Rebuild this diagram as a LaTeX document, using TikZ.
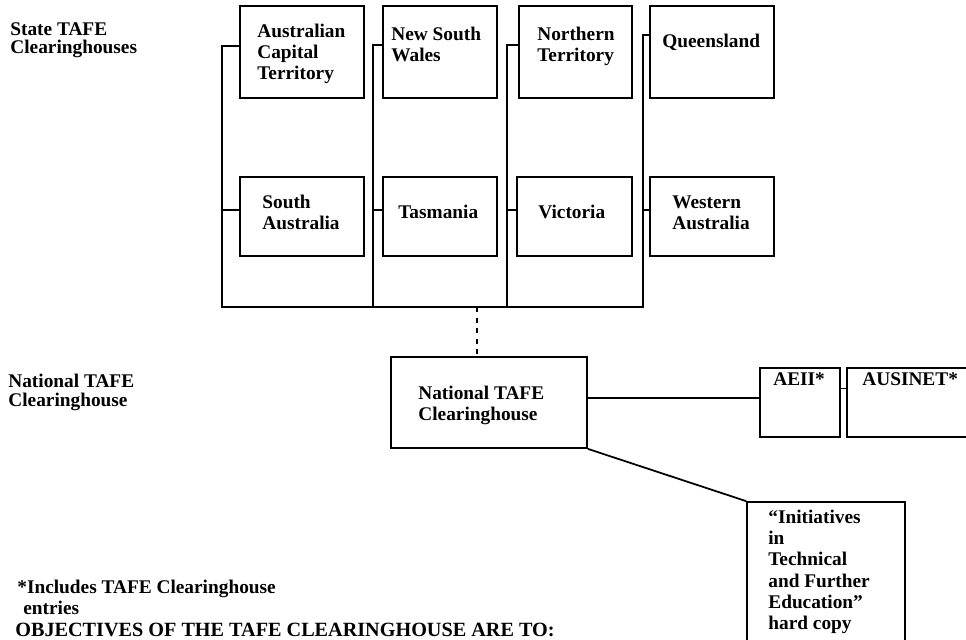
\documentclass[tikz,border=0pt]{standalone}
\usepackage{fontspec}
\setmainfont{Liberation Serif}
\usetikzlibrary{positioning, fit}

\begin{document}
\begin{tikzpicture}[x=0.02cm, y=-0.02cm,
    box/.style={draw, line width=1pt, inner sep=0pt},
    lbl/.style={anchor=north west, inner sep=0pt, align=left,
        font=\bfseries\fontsize{11}{12}\selectfont},
    link/.style={line width=1pt}]
    \clip (0,0) rectangle (966,639);

    % Row headings
    \node[lbl, font=\bfseries\fontsize{11}{10.5}\selectfont] (stateLbl) at (10,22) {State TAFE\\Clearinghouses};
    \node[lbl, font=\bfseries\fontsize{11}{10.5}\selectfont] (natLbl) at (8,374) {National TAFE\\Clearinghouse};

    % State boxes
    \node[box, fit={(240,6) (364,98)}] (act) {};
    \node[box, fit={(383,6) (497,98)}] (nsw) {};
    \node[box, fit={(519,6) (632,98)}] (nt) {};
    \node[box, fit={(650,6) (774,98)}] (qld) {};
    \node[box, fit={(240,177) (364,256)}] (sa) {};
    \node[box, fit={(383,177) (497,256)}] (tas) {};
    \node[box, fit={(517,177) (632,256)}] (vic) {};
    \node[box, fit={(650,177) (774,256)}] (wa) {};

    \node[lbl] (actTxt) at (257,24) {Australian\\Capital\\Territory};
    \node[lbl] (nswTxt) at (391,27) {New South\\Wales};
    \node[lbl] (ntTxt) at (537,27) {Northern\\Territory};
    \node[lbl] (qldTxt) at (662,34) {Queensland};
    \node[lbl] (saTxt) at (262,195) {South\\Australia};
    \node[lbl] (tasTxt) at (398,205) {Tasmania};
    \node[lbl] (vicTxt) at (538,205) {Victoria};
    \node[lbl] (waTxt) at (672,195) {Western\\Australia};

    % National level
    \node[box, fit={(391,357) (587,448)}] (nat) {};
    \node[lbl] (natTxt) at (418,386) {National TAFE\\Clearinghouse};
    \node[box, fit={(760,368) (840,437)}] (aeii) {};
    \node[lbl] (aeiiTxt) at (773,372) {AEII*};
    \node[box, fit={(847,368) (990,437)}] (aus) {};
    \node[lbl] (ausTxt) at (862,372) {AUSINET*};
    \node[box, fit={(747,502) (905,670)}] (init) {};
    \node[lbl] (initTxt) at (768,510) {``Initiatives\\in\\Technical\\and Further\\Education''\\hard copy};

    % Brackets joining the states
    \coordinate (col1) at (222,307);
    \coordinate (col2) at (373,307);
    \coordinate (col3) at (507,307);
    \coordinate (col4) at (643,307);
    \coordinate (tap) at (477,307);
    \draw[link] ([yshift=0.12cm]act.west) -| (col1) -- (col4) |- ([yshift=0.34cm]qld.west);
    \draw[link] ([yshift=0.14cm]nsw.west) -| (col2);
    \draw[link] ([yshift=0.14cm]nt.west) -| (col3);
    \draw[link] ([yshift=0.13cm]sa.west) -- ([yshift=0.13cm]sa.west -| col1);
    \draw[link] ([yshift=0.13cm]tas.west) -- ([yshift=0.13cm]tas.west -| col2);
    \draw[link] ([yshift=0.13cm]vic.west) -- ([yshift=0.13cm]vic.west -| col3);
    \draw[link] ([yshift=0.13cm]wa.west) -- ([yshift=0.13cm]wa.west -| col4);
    \draw[link, dashed] (tap) -- (tap |- nat.north);

    % National links
    \draw[link] ([yshift=0.09cm]nat.east) -- ([yshift=0.09cm]nat.east -| aeii.west);
    \draw[link] ([yshift=0.28cm]aeii.east) -- ([yshift=0.28cm]aus.west);
    \draw[link] (nat.south east) -- (init.north west);

    % Notes
    \node[lbl] (noteTxt) at (17,580) {*Includes TAFE Clearinghouse\\\hspace{3.4pt}entries};
    \node[anchor=base west, inner sep=0pt, font=\bfseries\fontsize{11.5}{12}\selectfont] (objTxt) at (15,636) {OBJECTIVES OF THE TAFE CLEARINGHOUSE ARE TO:};
\end{tikzpicture}
\end{document}
